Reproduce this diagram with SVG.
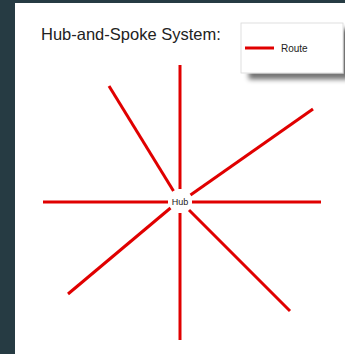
<svg xmlns="http://www.w3.org/2000/svg" width="345" height="354" viewBox="0 0 345 354">
<style>
.spoke{stroke:#e00000;stroke-width:3;stroke-linecap:butt;fill:none}
.lbl{font-family:"Liberation Sans",Arial,sans-serif;fill:#222}
</style>
<defs>
<filter id="sh" x="-20%" y="-20%" width="150%" height="180%">
<feGaussianBlur in="SourceAlpha" stdDeviation="2.5"/>
<feOffset dx="8" dy="6" result="b"/>
<feComponentTransfer><feFuncA type="linear" slope="0.55"/></feComponentTransfer>
<feMerge><feMergeNode/><feMergeNode in="SourceGraphic"/></feMerge>
</filter>
</defs>
<rect width="345" height="354" fill="#263b43"/>
<rect x="15" y="3" width="330" height="351" fill="#ffffff"/>
<text class="lbl" x="41" y="40" font-size="16.5">Hub-and-Spoke System:</text>
<g id="connectors">
<line class="spoke" x1="180" y1="65" x2="180" y2="189"/>
<line class="spoke" x1="180" y1="213" x2="180" y2="340"/>
<line class="spoke" x1="43" y1="202" x2="168" y2="202"/>
<line class="spoke" x1="192" y1="202" x2="321" y2="202"/>
<line class="spoke" x1="109" y1="86" x2="173.5" y2="191"/>
<line class="spoke" x1="313" y1="109" x2="190.5" y2="195"/>
<line class="spoke" x1="68" y1="294" x2="170.5" y2="208"/>
<line class="spoke" x1="290" y1="311" x2="189" y2="210"/>
</g>
<g id="hub">
<circle cx="180" cy="201" r="11" fill="#ffffff"/>
<text class="lbl" x="180" y="204.5" font-size="9" text-anchor="middle">Hub</text>
</g>
<g id="legend">
<rect x="241" y="23" width="102" height="50" fill="#ffffff" stroke="#d8d8d8" stroke-width="0.8" filter="url(#sh)"/>
<line class="spoke" x1="245" y1="48" x2="274" y2="48"/>
<text class="lbl" x="281" y="52" font-size="10">Route</text>
</g>
</svg>
